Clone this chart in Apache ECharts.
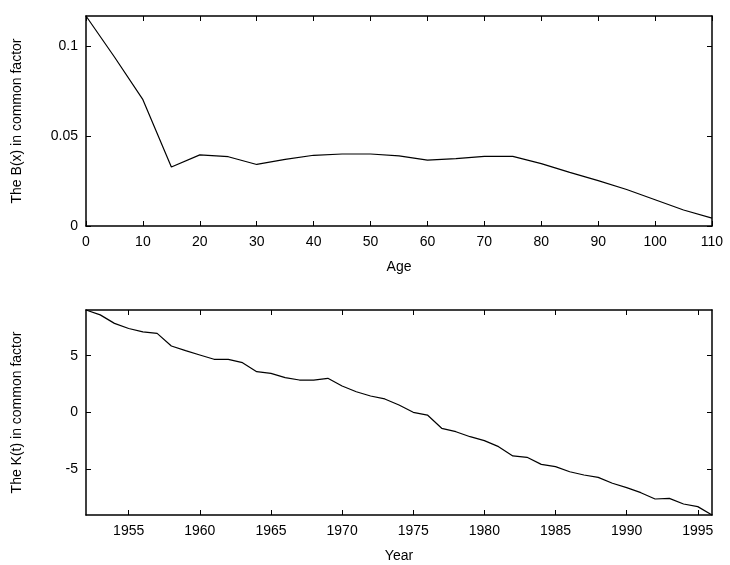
<!DOCTYPE html>
<html><head><meta charset="utf-8">
<script src="https://cdn.jsdelivr.net/npm/echarts@6/dist/echarts.min.js"></script>
<style>html,body{margin:0;background:#fff}#c{width:730px;height:565px}</style>
</head><body><div id="c"></div>
<script>
const ages = [0,5,10,15,20,25,30,35,40,45,50,55,60,65,70,75,80,85,90,95,100,105,110];
const bx = [0.1167,0.0939,0.0702,0.0328,0.0395,0.0385,0.0342,0.037,0.0393,0.040,0.040,0.039,0.0366,0.0374,0.0387,0.0387,0.0347,0.0298,0.0252,0.0203,0.0146,0.0089,0.0044];
const years = [];
for (let y = 1952; y <= 1996; y++) years.push(y);
const kt = [9.03,8.6,7.85,7.4,7.1,6.97,5.85,5.44,5.06,4.68,4.68,4.38,3.59,3.44,3.06,2.85,2.85,3.0,2.32,1.82,1.44,1.18,0.65,0,-0.24,-1.41,-1.71,-2.15,-2.5,-3.03,-3.85,-3.97,-4.59,-4.79,-5.24,-5.53,-5.74,-6.26,-6.65,-7.09,-7.65,-7.59,-8.09,-8.32,-9.06];
const bTicks = [0,0.05,0.1];
const kTicks = [-5,0,5];
const yearTicks = [1955,1960,1965,1970,1975,1980,1985,1990,1995];

const font = {fontFamily:'Liberation Sans, Arial', fontSize:14, color:'#000'};
const line = {show:true, onZero:false, lineStyle:{color:'#000', width:1.5}};
const tick = {show:true, inside:true, length:5, lineStyle:{color:'#000'}};
function mirror(grid, extra){
  return Object.assign({type:'value', gridIndex:grid, axisLine:line, axisTick:tick, axisLabel:{show:false}, splitLine:{show:false}}, extra);
}
const chart = echarts.init(document.getElementById('c'));
chart.setOption({
  animation:false,
  grid:[{left:86,right:18,top:16,height:210},{left:86,right:18,top:310,height:205}],
  xAxis:[
    {type:'value',gridIndex:0,min:0,max:110,interval:10,name:'Age',nameLocation:'middle',nameGap:34,nameTextStyle:font,
     axisLine:line,axisTick:tick,axisLabel:Object.assign({margin:9},font),splitLine:{show:false}},
    {type:'value',gridIndex:1,min:1952,max:1996,name:'Year',nameLocation:'middle',nameGap:34,nameTextStyle:font,
     axisLine:line,axisTick:Object.assign({customValues:yearTicks},tick),axisLabel:Object.assign({margin:9,customValues:yearTicks,formatter:v=>String(v)},font),splitLine:{show:false}},
    mirror(0,{position:'top',min:0,max:110,interval:10}),
    mirror(1,{position:'top',min:1952,max:1996,axisTick:Object.assign({customValues:yearTicks},tick)})
  ],
  yAxis:[
    {type:'value',gridIndex:0,min:0,max:0.1167,name:'The B(x) in common factor',nameLocation:'middle',nameGap:62,nameTextStyle:font,
     axisLine:line,axisTick:Object.assign({customValues:bTicks},tick),axisLabel:Object.assign({customValues:bTicks,margin:8,formatter:v=>String(+v.toFixed(2))},font),splitLine:{show:false}},
    {type:'value',gridIndex:1,min:-9.06,max:9.03,name:'The K(t) in common factor',nameLocation:'middle',nameGap:62,nameTextStyle:font,
     axisLine:line,axisTick:Object.assign({customValues:kTicks},tick),axisLabel:Object.assign({customValues:kTicks,margin:8},font),splitLine:{show:false}},
    mirror(0,{position:'right',min:0,max:0.1167,axisTick:Object.assign({customValues:bTicks},tick)}),
    mirror(1,{position:'right',min:-9.06,max:9.03,axisTick:Object.assign({customValues:kTicks},tick)})
  ],
  series:[
    {type:'line',xAxisIndex:0,yAxisIndex:0,data:ages.map((a,i)=>[a,bx[i]]),showSymbol:false,lineStyle:{color:'#000',width:1.2}},
    {type:'line',xAxisIndex:1,yAxisIndex:1,data:years.map((y,i)=>[y,kt[i]]),showSymbol:false,lineStyle:{color:'#000',width:1.2}}
  ]
});
</script></body></html>
